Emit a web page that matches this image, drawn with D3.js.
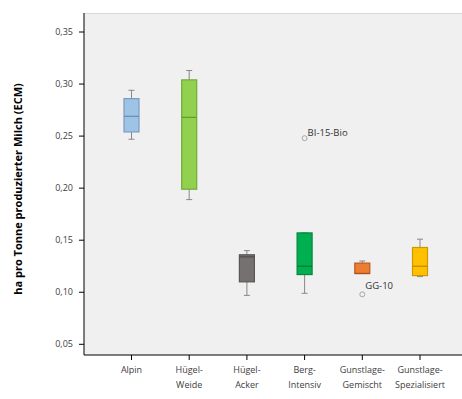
<!DOCTYPE html>
<html>
<head>
<meta charset="utf-8">
<script src="https://cdn.jsdelivr.net/npm/d3@7"></script>
<style>
  body { margin: 0; background: #fff; }
  text { font-family: "Open Sans", "Noto Sans", sans-serif; }
</style>
</head>
<body>
<div id="chart"></div>
<script>
// Data
const categories = [["Alpin"], ["Hügel-", "Weide"], ["Hügel-", "Acker"], ["Berg-", "Intensiv"], ["Gunstlage-", "Gemischt"], ["Gunstlage-", "Spezialisiert"]];
const whiskerMin = [0.247, 0.189, 0.097, 0.099, 0.118, 0.115];
const q1 = [0.254, 0.199, 0.110, 0.117, 0.118, 0.116];
const median = [0.269, 0.268, 0.134, 0.125, 0.118, 0.125];
const q3 = [0.286, 0.304, 0.136, 0.157, 0.128, 0.143];
const whiskerMax = [0.294, 0.313, 0.140, 0.157, 0.130, 0.151];
const fills = ["#9DC3E6", "#92D050", "#767171", "#00B050", "#ED7D31", "#FFC000"];
const strokes = ["#7A9CC0", "#6FAA35", "#5A5656", "#00873D", "#B85A1C", "#CC9A00"];
const outliers = [
    { cat: 3, value: 0.248, label: "BI-15-Bio" },
    { cat: 4, value: 0.098, label: "GG-10" }
];
const yTicks = [0.05, 0.10, 0.15, 0.20, 0.25, 0.30, 0.35];

const width = 462, height = 399;
const plot = { left: 84, right: 462, top: 13, bottom: 355 };

const svg = d3.select('#chart')
    .append('svg')
    .attr('width', width)
    .attr('height', height);

// Scales
const y = d3.scaleLinear()
    .domain([0.05, 0.35])
    .range([344.3, 32]);

const x = d3.scalePoint()
    .domain(d3.range(categories.length))
    .range([131.5, 420]);

// Plot background
svg.append('rect')
    .attr('x', plot.left)
    .attr('y', plot.top)
    .attr('width', plot.right - plot.left)
    .attr('height', plot.bottom - plot.top)
    .attr('fill', '#F0F0F0');

svg.append('line')
    .attr('x1', plot.left).attr('x2', plot.right)
    .attr('y1', plot.top + 0.5).attr('y2', plot.top + 0.5)
    .attr('stroke', '#D9D9D9');

// Y axis
const yAxis = svg.append('g')
    .attr('transform', `translate(${plot.left},0)`);
yAxis.append('line')
    .attr('x1', 0).attr('x2', 0)
    .attr('y1', plot.top).attr('y2', plot.bottom)
    .attr('stroke', '#000');
yAxis.selectAll('.tick')
    .data(yTicks)
    .join('g')
    .attr('transform', d => `translate(0,${y(d)})`)
    .each(function () {
        const g = d3.select(this);
        g.append('line').attr('x1', -5).attr('x2', 0).attr('stroke', '#000');
        g.append('text')
            .attr('x', -11)
            .attr('dy', '0.35em')
            .attr('text-anchor', 'end')
            .attr('font-size', 9)
            .attr('fill', '#404040')
            .text(d => d3.format('.2f')(d).replace('.', ','));
    });

// X axis
const xAxis = svg.append('g')
    .attr('transform', `translate(0,${plot.bottom})`);
xAxis.append('line')
    .attr('x1', plot.left).attr('x2', plot.right)
    .attr('stroke', '#000');
const xTick = xAxis.selectAll('.tick')
    .data(categories)
    .join('g')
    .attr('transform', (d, i) => `translate(${x(i)},0)`);
xTick.append('line').attr('y1', 0).attr('y2', 5).attr('stroke', '#000');
xTick.append('text')
    .attr('text-anchor', 'middle')
    .attr('font-size', 9)
    .attr('fill', '#404040')
    .selectAll('tspan')
    .data(d => d)
    .join('tspan')
    .attr('x', 0)
    .attr('y', (d, i) => 18 + i * 15)
    .text(d => d);

// Y axis title
svg.append('text')
    .attr('transform', `translate(22,${(plot.top + plot.bottom) / 2 + 5}) rotate(-90)`)
    .attr('text-anchor', 'middle')
    .attr('font-size', 11)
    .attr('font-weight', 'bold')
    .attr('fill', '#000')
    .text('ha pro Tonne produzierter Milch (ECM)');

// Boxes
const boxW = 15;
const boxes = svg.append('g')
    .selectAll('g')
    .data(categories)
    .join('g')
    .attr('transform', (d, i) => `translate(${x(i)},0)`);

boxes.append('line')
    .attr('y1', (d, i) => y(whiskerMax[i]))
    .attr('y2', (d, i) => y(whiskerMin[i]))
    .attr('stroke', '#888')
    .attr('stroke-width', 1);
boxes.append('line')
    .attr('x1', -3).attr('x2', 3)
    .attr('y1', (d, i) => y(whiskerMax[i]))
    .attr('y2', (d, i) => y(whiskerMax[i]))
    .attr('stroke', '#888');
boxes.append('line')
    .attr('x1', -3).attr('x2', 3)
    .attr('y1', (d, i) => y(whiskerMin[i]))
    .attr('y2', (d, i) => y(whiskerMin[i]))
    .attr('stroke', '#888');

boxes.append('rect')
    .attr('x', -boxW / 2)
    .attr('y', (d, i) => y(q3[i]))
    .attr('width', boxW)
    .attr('height', (d, i) => Math.max(1, y(q1[i]) - y(q3[i])))
    .attr('fill', (d, i) => fills[i])
    .attr('stroke', (d, i) => strokes[i])
    .attr('stroke-width', 1.2);

boxes.append('line')
    .attr('x1', -boxW / 2).attr('x2', boxW / 2)
    .attr('y1', (d, i) => y(median[i]))
    .attr('y2', (d, i) => y(median[i]))
    .attr('stroke', (d, i) => d3.color(strokes[i]).darker(0.3))
    .attr('stroke-width', 1.2);

// Outliers
const out = svg.append('g')
    .selectAll('g')
    .data(outliers)
    .join('g')
    .attr('transform', d => `translate(${x(d.cat)},${y(d.value)})`);
out.append('circle')
    .attr('r', 2.5)
    .attr('fill', 'none')
    .attr('stroke', '#A6A6A6');
out.append('text')
    .attr('x', 3)
    .attr('y', d => d.cat === 3 ? -2 : -5)
    .attr('font-size', 9.5)
    .attr('fill', '#333')
    .text(d => d.label);
</script>
</body>
</html>
